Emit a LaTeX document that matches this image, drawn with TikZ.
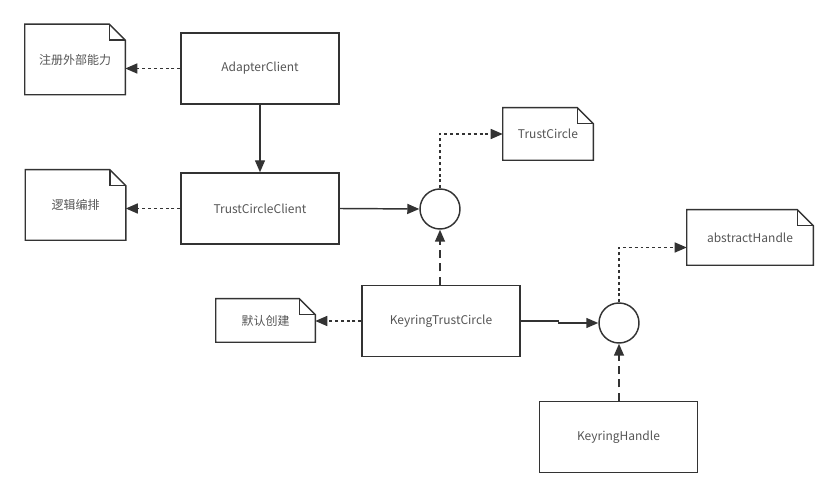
\documentclass[tikz,border=0pt]{standalone}
\usepackage{fontspec}
\setmainfont{Noto Sans CJK SC}
\usepackage{xcolor}
\usetikzlibrary{arrows.meta}
\definecolor{ink}{HTML}{333333}
\definecolor{txt}{HTML}{555555}
\tikzset{
  box/.style={draw=ink, line width=1.1pt, minimum width=118.5pt, minimum height=53.25pt, text=txt, font=\fontsize{9}{11}\selectfont},
  note/.style={text=txt, font=\fontsize{9}{11}\selectfont, inner sep=0pt},
  ring/.style={draw=ink, line width=1.1pt, circle, minimum size=30pt, inner sep=0pt},
  link/.style={draw=ink, line width=1.1pt, -{Triangle[length=9pt,width=7.5pt]}},
  dots/.style={link, dash pattern=on 2.2pt off 2.2pt},
  longdash/.style={link, dash pattern=on 6pt off 4pt}
}
\begin{document}
\begin{tikzpicture}[x=0.75pt, y=-0.75pt]
    \useasboundingbox (0,0) rectangle (839,498);
    \node[box] (adapter) at (260, 68.5) {AdapterClient};
    \node[box] (tcc) at (260, 208.5) {TrustCircleClient};
    \node[box] (ktc) at (441, 321) {KeyringTrustCircle};
    \node[box] (kh) at (618.5, 437) {KeyringHandle};
    \node[ring] (c1) at (440, 209) {};
    \node[ring] (c2) at (619, 323) {};
    \node[note, minimum width=75pt, minimum height=52.5pt] (reg) at (75, 59.5) {注册外部能力};
    \node[note, minimum width=75pt, minimum height=52.5pt] (orch) at (75.5, 205) {逻辑编排};
    \node[note, minimum width=67.5pt, minimum height=39pt] (tc) at (548, 134) {TrustCircle};
    \node[note, minimum width=74.25pt, minimum height=32.25pt] (def) at (265.5, 320.5) {默认创建};
    \node[note, minimum width=94.5pt, minimum height=41.25pt] (abs) at (750, 237.5) {abstractHandle};
    % folded notes
    \foreach \n in {reg, orch, tc, def, abs} {
      \draw[ink, line width=1.1pt, line join=miter] (\n.south west) -- (\n.north west) -- ([xshift=-12pt]\n.north east)
        -- ([yshift=-12pt]\n.north east) -- (\n.south east) -- cycle;
      \draw[ink, line width=1.1pt] ([xshift=-12pt]\n.north east) -- ([xshift=-12pt, yshift=-12pt]\n.north east)
        -- ([yshift=-12pt]\n.north east);
    }
    \draw[dots] (adapter.west) -- (adapter.west -| reg.east);
    \draw[link] (adapter) -- (tcc);
    \draw[dots] (tcc.west) -- (tcc.west -| orch.east);
    \draw[link] (tcc.east) -- (c1.west);
    \draw[dots] (c1.north) |- (tc.west);
    \draw[longdash] (ktc.north -| c1) -- (c1.south);
    \draw[dots] (ktc.west) -- (ktc.west -| def.east);
    \draw[link] (ktc.east) -- ++(38,0) |- (c2.west);
    \draw[dots] (c2.north) |- ([yshift=-7.5pt]abs.west);
    \draw[longdash] (kh.north -| c2) -- (c2.south);
  \end{tikzpicture}
\end{document}
